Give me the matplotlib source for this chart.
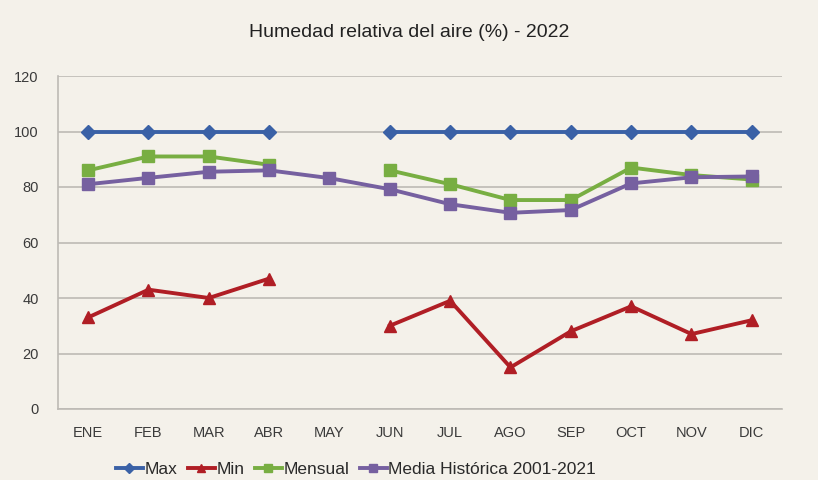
import numpy as np
import matplotlib.pyplot as plt

# Humedad relativa del aire 2022
months = ['ENE', 'FEB', 'MAR', 'ABR', 'MAY', 'JUN', 'JUL', 'AGO', 'SEP', 'OCT', 'NOV', 'DIC']
hum_max = [100, 100, 100, 100, None, 100, 100, 100, 100, 100, 100, 100]
hum_min = [33, 43, 40, 47, None, 30, 39, 15, 28, 37, 27, 32]
mensual = [86, 91, 91, 88, None, 86, 81, 75.3, 75.3, 87, 84.3, 82.7]
media_hist = [81, 83.3, 85.5, 86, 83.2, 79.2, 73.8, 70.7, 71.7, 81.3, 83.5, 83.8]

bg = '#F4F1EA'
plt.rcParams['font.family'] = ['Liberation Sans', 'DejaVu Sans']

fig = plt.figure(figsize=(8.18, 4.8), dpi=100, facecolor=bg)
ax = fig.add_axes([58/818, 71/480, 724/818, 333/480], facecolor=bg)

x = np.arange(len(months))


def to_arr(vals):
    return np.array([np.nan if v is None else v for v in vals], dtype=float)


ax.plot(x, to_arr(hum_max), color='#3A61A6', lw=2.8, marker='D', ms=7, label='Max')
ax.plot(x, to_arr(hum_min), color='#B01E25', lw=2.8, marker='^', ms=9, label='Min')
ax.plot(x, to_arr(mensual), color='#78AE42', lw=2.8, marker='s', ms=9, label='Mensual')
ax.plot(x, to_arr(media_hist), color='#7660A0', lw=2.8, marker='s', ms=9,
        label='Media Histórica 2001-2021')

ax.set_xlim(-0.5, len(months) - 0.5)
ax.set_ylim(0, 120)
ax.set_yticks(range(0, 121, 20))
ax.set_xticks(x)
ax.set_xticklabels(months)
ax.yaxis.grid(True, color='#BDBAB5', lw=1.2)
ax.set_axisbelow(True)
ax.tick_params(length=0, labelsize=10.5, colors='#3A3A3A')
ax.tick_params(axis='x', pad=12)
ax.tick_params(axis='y', pad=14)
for s in ['top', 'right']:
    ax.spines[s].set_visible(False)
for s in ['left', 'bottom']:
    ax.spines[s].set_color('#BDBAB5')
    ax.spines[s].set_linewidth(1.2)

fig.text(0.5, 0.933, 'Humedad relativa del aire (%) - 2022', ha='center', va='center',
         fontsize=14, color='#222222')

fig.legend(loc='center', bbox_to_anchor=(356/818, 0.022), ncol=4, frameon=False,
           fontsize=12.5, labelcolor='#2A2A2A',
           handlelength=1.55, handletextpad=0.1, columnspacing=0.6, markerscale=0.7)

fig.savefig('out.png', dpi=100, facecolor=bg)
